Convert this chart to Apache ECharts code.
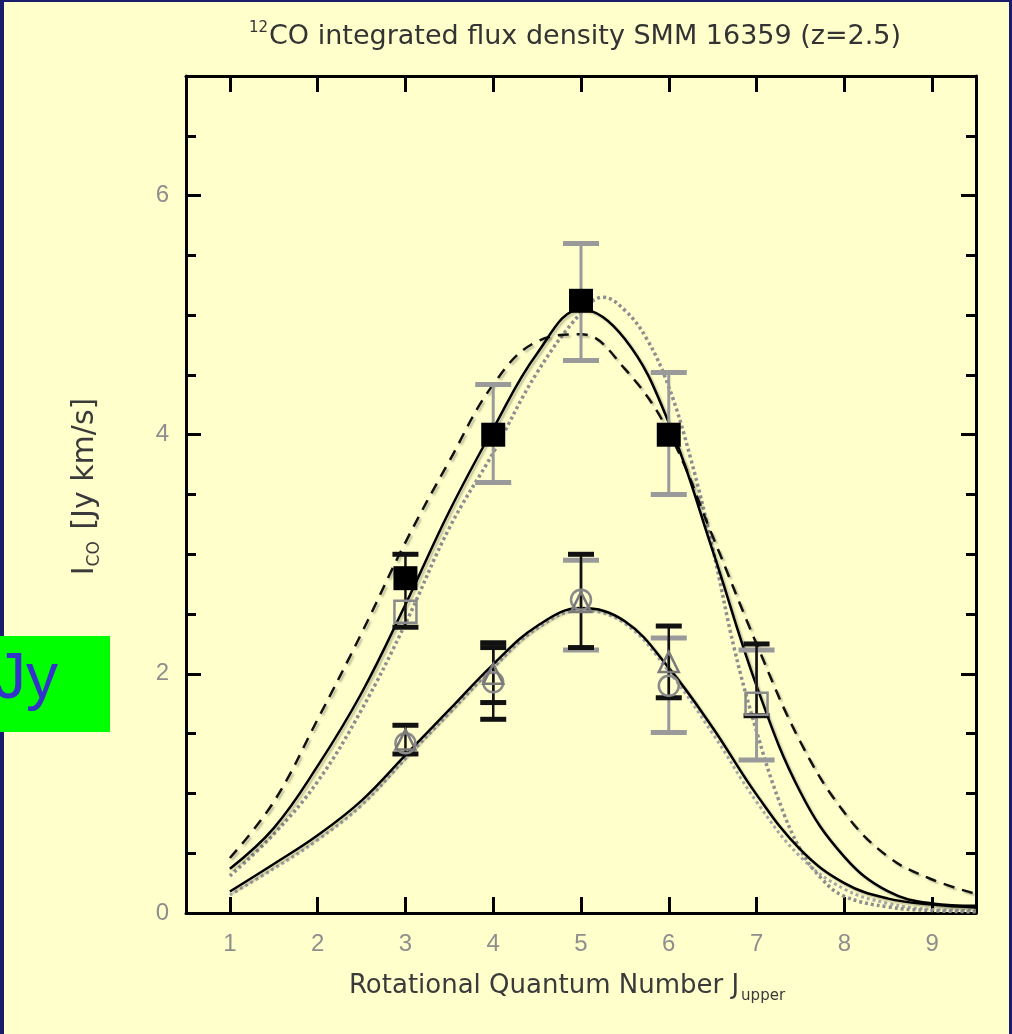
<!DOCTYPE html>
<html>
<head>
<meta charset="utf-8">
<script src="https://cdn.jsdelivr.net/npm/echarts@6/dist/echarts.min.js"></script>
<style>
  html, body { margin: 0; padding: 0; background: #ffffcc; }
  #chart { width: 1012px; height: 1034px; }
</style>
</head>
<body>
<div id="chart"></div>
<script>
// ---- model curves (integrated flux vs. upper J) ----
const fitJ = [1, 1.5, 2, 2.5, 3, 3.5, 4, 4.5, 5, 5.5, 6, 6.5, 7, 7.5, 8, 8.5, 9, 9.5];
const fitSolidHigh  = [0.37, 0.71, 1.23, 1.84, 2.58, 3.36, 4.05, 4.68, 5.05, 4.80, 4.10, 3.03, 1.90, 1.01, 0.47, 0.18, 0.08, 0.06];
const fitDashedHigh = [0.46, 0.93, 1.62, 2.34, 3.10, 3.78, 4.42, 4.78, 4.84, 4.55, 4.02, 3.15, 2.25, 1.43, 0.84, 0.47, 0.28, 0.16];
const fitSolidLow   = [0.18, 0.41, 0.65, 0.94, 1.32, 1.70, 2.08, 2.40, 2.55, 2.44, 2.05, 1.55, 0.99, 0.53, 0.25, 0.12, 0.07, 0.045];
const fitDottedLow  = [0.15, 0.37, 0.61, 0.90, 1.29, 1.67, 2.05, 2.38, 2.53, 2.42, 2.02, 1.50, 0.93, 0.47, 0.20, 0.08, 0.03, 0.02];
const fitDottedJ    = [1, 1.5, 2, 2.5, 3, 3.5, 4, 4.5, 5, 5.25, 5.5, 5.75, 6, 6.25, 6.5, 6.75, 7, 7.25, 7.5, 7.75, 8, 8.5, 9, 9.5];
const fitDottedHigh = [0.31, 0.66, 1.10, 1.70, 2.42, 3.22, 3.85, 4.52, 5.02, 5.15, 5.04, 4.80, 4.40, 3.80, 3.05, 2.20, 1.52, 0.95, 0.53, 0.28, 0.14, 0.05, 0.02, 0.01];

// ---- measured line fluxes ----
const filledJ = [3, 4, 5, 6];
const filledFlux = [2.80, 4.00, 5.12, 4.00];
const openSquareJ = [3, 7];
const openSquareFlux = [2.52, 1.75];
const circleJ = [3, 4, 5, 6];
const circleFlux = [1.42, 1.93, 2.62, 1.90];
const triangleJ = [3, 4, 5, 6];
const triangleFlux = [1.45, 2.00, 2.60, 2.10];

// ---- error bars ----
const errGreyJ    = [4, 5, 6, 7, 5, 6];
const errGreyLow  = [3.60, 4.62, 3.50, 1.28, 2.20, 1.51];
const errGreyHigh = [4.42, 5.60, 4.52, 2.20, 2.95, 2.30];
const errBlackJ    = [3, 7, 3, 4, 4, 5, 6];
const errBlackLow  = [2.39, 1.65, 1.33, 1.62, 1.76, 2.22, 1.80];
const errBlackHigh = [3.00, 2.25, 1.57, 2.26, 2.22, 3.00, 2.40];

// ---- axis ticks and labels ----
const xTicks = [1, 2, 3, 4, 5, 6, 7, 8, 9];
const yMinorTicks = [0.5, 1, 1.5, 2, 2.5, 3, 3.5, 4, 4.5, 5, 5.5, 6, 6.5];
const yMajorTicks = [2, 4, 6];
const yLabels = [0, 2, 4, 6];

const pairs = (xs, ys) => xs.map((x, i) => [x, ys[i]]);
const triples = (xs, lo, hi) => xs.map((x, i) => [x, lo[i], hi[i]]);

const textFont = 'DejaVu Sans';
const labelStyle = {
  color: '#8e8e8e',
  fontFamily: 'Liberation Sans',
  fontSize: 24
};

function errorBar(capHalf, color, width) {
  return function (params, api) {
    const x = api.value(0);
    const lo = api.coord([x, api.value(1)]);
    const hi = api.coord([x, api.value(2)]);
    const capStyle = { stroke: color, lineWidth: 5 };
    return {
      type: 'group',
      children: [
        { type: 'line', shape: { x1: lo[0], y1: lo[1], x2: hi[0], y2: hi[1] }, style: { stroke: color, lineWidth: width } },
        { type: 'line', shape: { x1: lo[0] - capHalf, y1: lo[1], x2: lo[0] + capHalf, y2: lo[1] }, style: capStyle },
        { type: 'line', shape: { x1: hi[0] - capHalf, y1: hi[1], x2: hi[0] + capHalf, y2: hi[1] }, style: capStyle }
      ]
    };
  };
}

const lineShadow = { shadowColor: 'rgba(0,0,0,0.25)', shadowBlur: 2, shadowOffsetX: 2, shadowOffsetY: 2 };

function xAxisDef(pos, showLabels, name) {
  return {
    type: 'value', position: pos, min: 0.5, max: 9.5,
    name: name || '', nameLocation: 'middle', nameGap: 58,
    nameTextStyle: {
      padding: [0, 28, 0, 0],
      rich: {
        a: { fontFamily: textFont, fontSize: 26, color: '#3a3a3a', lineHeight: 30 },
        s: { fontFamily: textFont, fontSize: 15, color: '#3a3a3a', lineHeight: 15, padding: [20, 0, 0, 2] }
      }
    },
    splitLine: { show: false },
    axisLine: { show: true, onZero: false, lineStyle: { color: '#000', width: 3 } },
    axisTick: { show: true, inside: true, length: 16, customValues: xTicks, lineStyle: { color: '#000', width: 3 } },
    axisLabel: Object.assign({ show: showLabels, customValues: xTicks, margin: 19 }, labelStyle)
  };
}

function yAxisDef(pos, ticks, len, showLine, showLabels, name) {
  return {
    type: 'value', position: pos, min: 0, max: 7,
    name: name || '', nameLocation: 'middle', nameGap: 84, nameRotate: 90,
    nameTextStyle: {
      padding: [0, 0, 0, 16],
      rich: {
        a: { fontFamily: textFont, fontSize: 30, color: '#3a3a3a', lineHeight: 34 },
        s: { fontFamily: textFont, fontSize: 17, color: '#3a3a3a', lineHeight: 17, padding: [19, 2, 0, 0] }
      }
    },
    splitLine: { show: false },
    axisLine: { show: showLine, onZero: false, lineStyle: { color: '#000', width: 3 } },
    axisTick: { show: true, inside: true, length: len, customValues: ticks, lineStyle: { color: '#000', width: 3 } },
    axisLabel: Object.assign({ show: showLabels, customValues: yLabels, margin: 17 }, labelStyle)
  };
}

const chart = echarts.init(document.getElementById('chart'), null, { renderer: 'canvas' });

chart.setOption({
  animation: false,
  backgroundColor: '#ffffcc',
  title: {
    text: '{sup|12}{t|CO integrated flux density SMM 16359 (z=2.5)}',
    left: 570, top: 16, textAlign: 'center',
    textStyle: {
      fontWeight: 'normal',
      rich: {
        sup: { fontFamily: textFont, fontSize: 15, fontWeight: 'normal', color: '#333', lineHeight: 32, verticalAlign: 'top', padding: [0, 1, 13, 0] },
        t: { fontFamily: textFont, fontSize: 27, fontWeight: 'normal', color: '#333', lineHeight: 32 }
      }
    }
  },
  grid: { left: 186, right: 36, top: 76, bottom: 121, containLabel: false },
  xAxis: [
    xAxisDef('bottom', true, '{a|Rotational Quantum Number J}{s|upper}'),
    xAxisDef('top', false)
  ],
  yAxis: [
    yAxisDef('left', yMinorTicks, 10, true, true, '{a|I}{s|CO}{a| [Jy km/s]}'),
    yAxisDef('left', yMajorTicks, 15, false, false),
    yAxisDef('right', yMinorTicks, 10, true, false),
    yAxisDef('right', yMajorTicks, 15, false, false)
  ],
  graphic: [
    { type: 'rect', left: 0, top: 0, shape: { width: 4, height: 1034 }, style: { fill: '#1c1c6e' }, z: 100 },
    { type: 'rect', left: 0, top: 0, shape: { width: 1012, height: 2 }, style: { fill: '#1c1c6e' }, z: 100 },
    { type: 'rect', right: 0, top: 0, shape: { width: 3, height: 1034 }, style: { fill: '#1c1c6e' }, z: 100 },
    { type: 'rect', left: 0, top: 636, shape: { width: 110, height: 96 }, style: { fill: '#00ff00' }, z: 101 },
    { type: 'text', left: -6, top: 648, style: { text: 'Jy', fill: '#3333cc', font: '64px "Liberation Sans", Arial, sans-serif' }, z: 102 }
  ],
  series: [
    {
      name: 'model dotted (low)', type: 'line', data: pairs(fitJ, fitDottedLow), smooth: 0.4,
      symbol: 'none', lineStyle: { color: '#a8a8a8', width: 3, type: [3, 3] }, z: 2
    },
    {
      name: 'model dotted (high)', type: 'line', data: pairs(fitDottedJ, fitDottedHigh), smooth: 0.4,
      symbol: 'none', lineStyle: { color: '#8e8e8e', width: 3.5, type: [3, 3] }, z: 2
    },
    {
      name: 'model dashed', type: 'line', data: pairs(fitJ, fitDashedHigh), smooth: 0.4,
      symbol: 'none', lineStyle: Object.assign({ color: '#111', width: 2.5, type: [11, 8] }, lineShadow), z: 3
    },
    {
      name: 'model solid (high)', type: 'line', data: pairs(fitJ, fitSolidHigh), smooth: 0.4,
      symbol: 'none', lineStyle: Object.assign({ color: '#000', width: 2.5 }, lineShadow), z: 4
    },
    {
      name: 'model solid (low)', type: 'line', data: pairs(fitJ, fitSolidLow), smooth: 0.4,
      symbol: 'none', lineStyle: Object.assign({ color: '#000', width: 2.5 }, lineShadow), z: 4
    },
    {
      name: 'error grey', type: 'custom', data: triples(errGreyJ, errGreyLow, errGreyHigh),
      encode: { x: 0, y: [1, 2] }, renderItem: errorBar(18, '#9a9a9a', 3), z: 5
    },
    {
      name: 'error black', type: 'custom', data: triples(errBlackJ, errBlackLow, errBlackHigh),
      encode: { x: 0, y: [1, 2] }, renderItem: errorBar(13, '#111', 2.5), z: 6
    },
    {
      name: 'open circles', type: 'scatter', data: pairs(circleJ, circleFlux), symbol: 'circle', symbolSize: 20,
      itemStyle: { color: 'rgba(0,0,0,0)', borderColor: '#8a8a8a', borderWidth: 2.5, opacity: 1 }, z: 7
    },
    {
      name: 'open triangles', type: 'scatter', data: pairs(triangleJ, triangleFlux), symbol: 'triangle', symbolSize: 20,
      itemStyle: { color: 'rgba(0,0,0,0)', borderColor: '#7a7a7a', borderWidth: 2.5, opacity: 1 }, z: 7
    },
    {
      name: 'open squares', type: 'scatter', data: pairs(openSquareJ, openSquareFlux), symbol: 'rect', symbolSize: 22,
      itemStyle: { color: 'rgba(0,0,0,0)', borderColor: '#8a8a8a', borderWidth: 2.5, opacity: 1 }, z: 7
    },
    {
      name: 'filled squares', type: 'scatter', data: pairs(filledJ, filledFlux), symbol: 'rect', symbolSize: 24,
      itemStyle: { color: '#000', opacity: 1 }, z: 8
    }
  ]
});
</script>
</body>
</html>
